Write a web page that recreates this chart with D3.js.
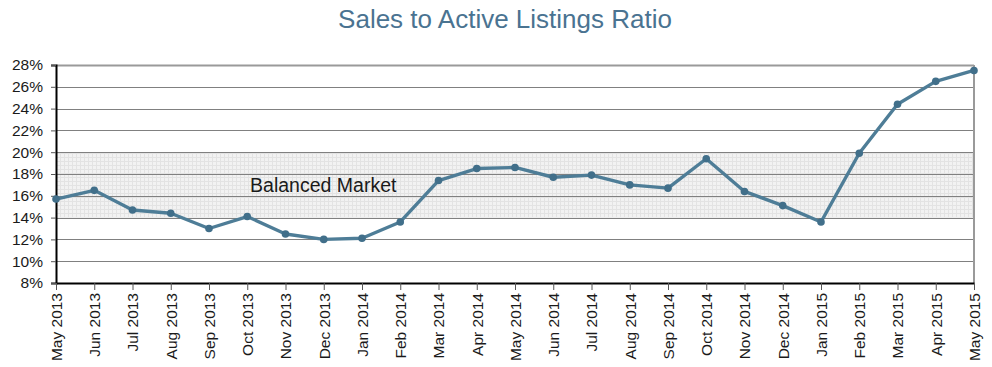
<!DOCTYPE html>
<html>
<head>
<meta charset="utf-8">
<script src="https://cdn.jsdelivr.net/npm/d3@7"></script>
<style>
  body { margin: 0; background: #fff; }
  svg { display: block; font-family: Arial, "Liberation Sans", sans-serif; }
</style>
</head>
<body>
<div id="chart"></div>
<script>
const months = [
  "May 2013", "Jun 2013", "Jul 2013", "Aug 2013", "Sep 2013", "Oct 2013",
  "Nov 2013", "Dec 2013", "Jan 2014", "Feb 2014", "Mar 2014", "Apr 2014",
  "May 2014", "Jun 2014", "Jul 2014", "Aug 2014", "Sep 2014", "Oct 2014",
  "Nov 2014", "Dec 2014", "Jan 2015", "Feb 2015", "Mar 2015", "Apr 2015",
  "May 2015",
];
const ratio = [
  15.7, 16.5, 14.7, 14.4, 13.0, 14.1,
  12.5, 12.0, 12.1, 13.6, 17.4, 18.5,
  18.6, 17.7, 17.9, 17.0, 16.7, 19.4,
  16.4, 15.1, 13.6, 19.9, 24.4, 26.5,
  27.5,
];
const yTicks = [8, 10, 12, 14, 16, 18, 20, 22, 24, 26, 28];
const balancedBand = [14, 20];
const bandLabel = "Balanced Market";
const title = "Sales to Active Listings Ratio";

const svgWidth = 992;
const svgHeight = 367;
const margin = { top: 65, right: 18, bottom: 84, left: 56 };
const width = svgWidth - margin.left - margin.right;
const height = svgHeight - margin.top - margin.bottom;

const svg = d3.select("#chart")
  .append("svg")
  .attr("width", svgWidth)
  .attr("height", svgHeight);

// fine grid pattern for the balanced band
const defs = svg.append("defs");
const pat = defs.append("pattern")
  .attr("id", "mesh")
  .attr("width", 4)
  .attr("height", 4)
  .attr("patternUnits", "userSpaceOnUse");
pat.append("rect").attr("width", 4).attr("height", 4).attr("fill", "#f2f2f2");
pat.append("path").attr("d", "M0,0.5H4M0.5,0V4").attr("stroke", "#e3e3e3").attr("stroke-width", 1);

svg.append("text")
  .attr("x", 505)
  .attr("y", 28)
  .attr("text-anchor", "middle")
  .attr("fill", "#4a7391")
  .style("font-size", "26px")
  .text(title);

const chart = svg.append("g")
  .attr("transform", `translate(${margin.left},${margin.top})`);

const xScale = d3.scalePoint()
  .domain(months)
  .range([0, width]);

const yScale = d3.scaleLinear()
  .domain([8, 28])
  .range([height, 0]);

// balanced market band
chart.append("rect")
  .attr("x", 0)
  .attr("y", yScale(balancedBand[1]))
  .attr("width", width)
  .attr("height", yScale(balancedBand[0]) - yScale(balancedBand[1]))
  .attr("fill", "url(#mesh)");

// gridlines
chart.append("g")
  .selectAll("line")
  .data(yTicks.filter((d) => d > 8))
  .enter()
  .append("line")
  .attr("x1", 0)
  .attr("x2", width)
  .attr("y1", (d) => Math.round(yScale(d)) + 0.5)
  .attr("y2", (d) => Math.round(yScale(d)) + 0.5)
  .attr("stroke", (d) => (d === 28 ? "#9a9a9a" : "#808080"))
  .attr("stroke-width", (d) => (d === 28 ? 2 : 1));

// right border
chart.append("line")
  .attr("x1", width)
  .attr("x2", width)
  .attr("y1", 0)
  .attr("y2", height)
  .attr("stroke", "#9a9a9a")
  .attr("stroke-width", 2);

chart.append("text")
  .attr("x", xScale("Oct 2013") + 76)
  .attr("y", yScale(17) + 7)
  .attr("text-anchor", "middle")
  .attr("fill", "#1a1a1a")
  .style("font-size", "19.5px")
  .text(bandLabel);

// y axis
const yAxis = chart.append("g")
  .call(d3.axisLeft(yScale).tickValues(yTicks).tickFormat((d) => d + "%").tickSize(5).tickPadding(8));
yAxis.select(".domain").attr("stroke", "#000").attr("stroke-width", 2);
yAxis.selectAll(".tick line").attr("stroke", "#555");
yAxis.selectAll("text").style("font-size", "15.5px").attr("fill", "#1a1a1a");

// x axis
const xAxis = chart.append("g")
  .attr("transform", `translate(0,${height})`)
  .call(d3.axisBottom(xScale).tickSize(7).tickSizeOuter(0));
xAxis.select(".domain").attr("stroke", "#000").attr("stroke-width", 2);
xAxis.selectAll(".tick line").attr("stroke", "#555");
xAxis.selectAll("text")
  .style("font-size", "15.5px")
  .attr("fill", "#1a1a1a")
  .attr("text-anchor", "end")
  .attr("dy", "0.35em")
  .attr("transform", "translate(0,10) rotate(-90)")
  .attr("x", 0)
  .attr("y", 0);

// line
const line = d3.line()
  .x((d, i) => xScale(months[i]))
  .y((d) => yScale(d));

chart.append("path")
  .datum(ratio)
  .attr("fill", "none")
  .attr("stroke", "#4e7d97")
  .attr("stroke-width", 3.4)
  .attr("stroke-linejoin", "round")
  .attr("d", line);

chart.selectAll(".dot")
  .data(ratio)
  .enter()
  .append("circle")
  .attr("class", "dot")
  .attr("cx", (d, i) => xScale(months[i]))
  .attr("cy", (d) => yScale(d))
  .attr("r", 3.8)
  .attr("fill", "#416f8a");
</script>
</body>
</html>
